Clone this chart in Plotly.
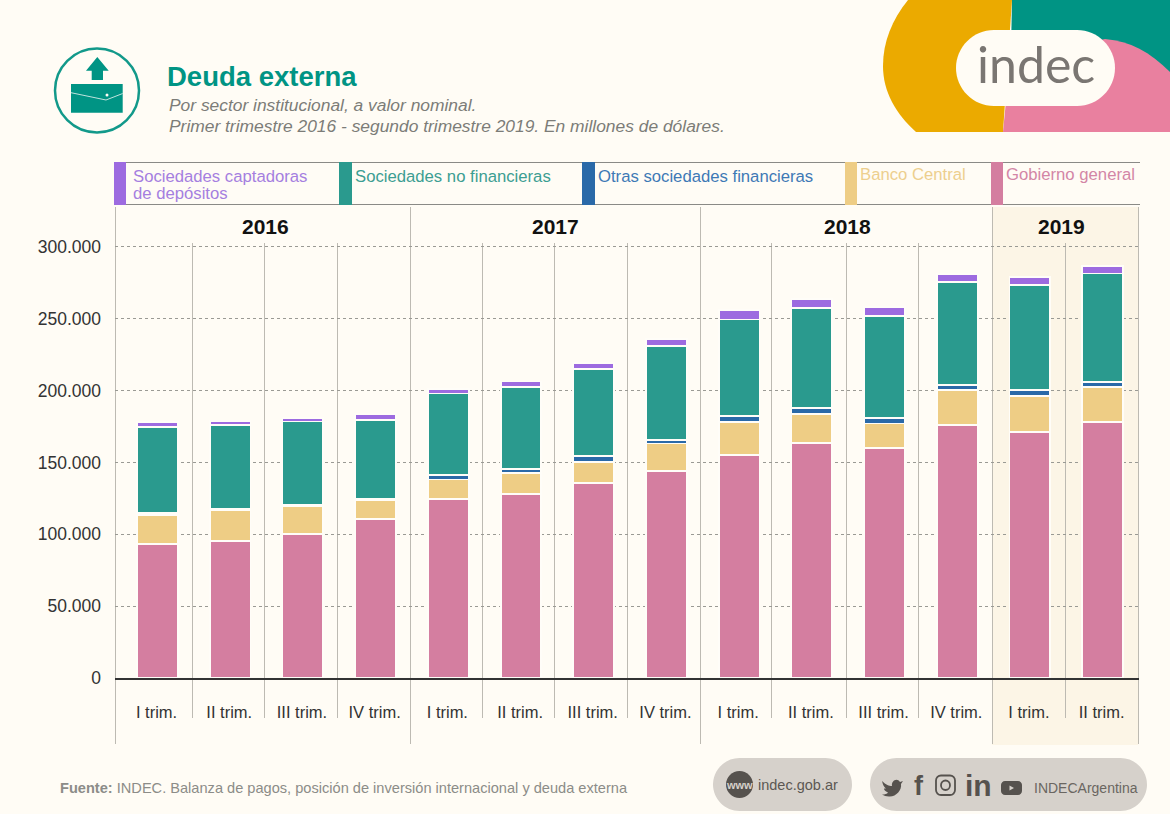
import plotly.graph_objects as go

W, H = 1170, 814
FONT = "Liberation Sans"
BG = "#FFFCF5"

quarters = ["I trim.", "II trim.", "III trim.", "IV trim."] * 3 + ["I trim.", "II trim."]
years = ["2016", "2017", "2018", "2019"]
series_names = ["Gobierno general", "Banco Central", "Otras sociedades financieras",
                "Sociedades no financieras", "Sociedades captadoras de depósitos"]
gobierno = [93400, 95600, 100300, 110500, 124400, 127900, 135700, 144100, 155200, 163400, 159900, 176100, 171200, 178200]
banco = [20100, 21100, 19000, 13400, 13700, 14800, 14800, 19100, 23000, 20600, 17200, 24200, 25200, 24100]
otras = [1400, 1000, 1200, 1000, 3000, 2600, 4000, 2700, 4200, 3700, 3700, 3700, 4100, 3700]
no_fin = [59800, 58400, 58000, 54500, 56900, 57100, 60400, 65200, 67100, 69600, 71000, 71600, 72800, 75500]
captadoras = [3300, 2800, 2700, 4100, 3000, 3900, 4200, 5100, 6400, 6500, 6500, 5600, 5600, 5300]
colors = ["#D47EA0", "#EECD85", "#2A69A8", "#2A9A8E", "#9D6BE0"]
yticks = [0, 50000, 100000, 150000, 200000, 250000, 300000]


def px(x):
    return x / W


def py(y):
    return 1 - y / H


def path(*items):
    out = []
    for it in items:
        cmd = it[0]
        pts = it[1:]
        out.append(cmd + " ".join(f"{px(pts[i]):.5f},{py(pts[i+1]):.5f}" for i in range(0, len(pts), 2)))
    return " ".join(out) + " Z"


shapes, notes = [], []


def rect(x0, y0, x1, y1, fill, layer="below", line=None, lw=0):
    shapes.append(dict(type="rect", xref="paper", yref="paper", x0=px(x0), x1=px(x1), y0=py(y0), y1=py(y1),
                       fillcolor=fill, line=dict(color=line or fill, width=lw), layer=layer))


def seg(x0, y0, x1, y1, color, width=1, layer="below"):
    shapes.append(dict(type="line", xref="paper", yref="paper", x0=px(x0), x1=px(x1), y0=py(y0), y1=py(y1),
                       line=dict(color=color, width=width), layer=layer))


def shp(d, fill, line=None, lw=0, layer="below"):
    shapes.append(dict(type="path", xref="paper", yref="paper", path=d, fillcolor=fill,
                       line=dict(color=line or fill, width=lw), layer=layer))


def oval(x0, y0, x1, y1, fill, line=None, lw=0):
    shapes.append(dict(type="circle", xref="paper", yref="paper", x0=px(x0), x1=px(x1), y0=py(y0), y1=py(y1),
                       fillcolor=fill, line=dict(color=line or fill, width=lw), layer="below"))


def text(x, y, s, size, color, anchor="left", family=FONT):
    notes.append(dict(xref="paper", yref="paper", x=px(x - 2 if anchor == "left" else x), y=py(y), text=s,
                      showarrow=False, xanchor=anchor, yanchor="middle", align="left",
                      font=dict(family=family, size=size, color=color)))


def rounded(x0, y0, x1, y1, r, fill, line=None, lw=0):
    k = r * 0.45
    shp(path(("M", x0 + r, y0), ("L", x1 - r, y0),
             ("C", x1 - k, y0, x1, y0 + k, x1, y0 + r),
             ("L", x1, y1 - r),
             ("C", x1, y1 - k, x1 - k, y1, x1 - r, y1),
             ("L", x0 + r, y1),
             ("C", x0 + k, y1, x0, y1 - k, x0, y1 - r),
             ("L", x0, y0 + r),
             ("C", x0, y0 + k, x0 + k, y0, x0 + r, y0)), fill, line, lw)


def pill(x0, y0, x1, y1, fill):
    rounded(x0, y0, x1, y1, (y1 - y0) / 2, fill)


# logo
shp(path(("M", 1012, 0), ("L", 1170, 0), ("L", 1170, 100), ("L", 1010, 100), ("L", 1012, 0)), "#009484")
shp(path(("M", 908, 0), ("C", 892, 20, 883, 42, 883, 66), ("C", 883, 92, 896, 114, 916, 132),
         ("L", 1003, 132), ("L", 1012, 0)), "#EBAA00")
shp(path(("M", 1003, 132), ("L", 1170, 132), ("L", 1170, 72), ("C", 1150, 52, 1130, 41, 1105, 39),
         ("L", 1010, 60)), "#E9809F")
pill(956, 30, 1115, 106, BG)
text(1035.5, 64, "indec", 50, "#7A7672", "center", "Lato")

# icon
oval(55, 48.5, 139, 132.5, "rgba(0,0,0,0)", "#12998A", 2.5)
rect(71, 84, 122.7, 112.7, "#009484")
shp(path(("M", 97.3, 57), ("L", 108.7, 70.7), ("L", 103, 70.7), ("L", 103, 80), ("L", 91.7, 80), ("L", 91.7, 70.7), ("L", 86, 70.7)), "#009484")
seg(71, 92.7, 106, 100, "#BFE3DD", 1)
seg(106, 100, 122.7, 93.5, "#BFE3DD", 1)
oval(105.5, 93.5, 108.5, 96.5, "#FFFCF5")

# titles
text(167, 76, "<b>Deuda externa</b>", 27.5, "#009484")
text(169, 105, "<i>Por sector institucional, a valor nominal.</i>", 17.4, "#7C7C78")
text(169, 126, "<i>Primer trimestre 2016 - segundo trimestre 2019. En millones de dólares.</i>", 17.4, "#7C7C78")

# legend band
seg(114, 162.5, 1140, 162.5, "#8A8A86", 1)
seg(114, 204.5, 1140, 204.5, "#8A8A86", 1)
legend_items = [(114, 126, colors[4], "#A57FE0", ["Sociedades captadoras", "de depósitos"], 133, [176, 193]),
                (339, 352, colors[3], "#3C9E92", ["Sociedades no financieras"], 355, [176]),
                (582, 595, colors[2], "#3E79B5", ["Otras sociedades financieras"], 598, [176]),
                (845, 857, colors[1], "#EDCF8E", ["Banco Central"], 860, [175]),
                (991, 1003, colors[0], "#D386A6", ["Gobierno general"], 1006, [175])]
for x0, x1, c, tc, labels, tx, tys in legend_items:
    rect(x0, 162, x1, 205, c)
    for label, ty in zip(labels, tys):
        text(tx, ty, label, 16.7, tc)

# 2019 highlight and dividers
rect(992, 207, 1138, 745, "#FCF5E6")
for x in [115, 410, 700, 992, 1138]:
    seg(x + 0.5, 207, x + 0.5, 744, "#BDBAB2", 1)
for x in [192, 264, 337, 482, 554, 627, 771, 846, 918, 1065]:
    seg(x + 0.5, 243, x + 0.5, 718, "#BDBAB2", 1)
for x, y_label in zip([265.5, 555, 847, 1061], years):
    text(x, 226.5, f"<b>{y_label}</b>", 21, "#111111", "center")

# footer
text(60, 788, "<b>Fuente:</b> INDEC. Balanza de pagos, posición de inversión internacional y deuda externa", 14.6, "#8C8C88")
pill(713, 758, 852, 811, "#D6D1CB")
pill(870, 758, 1147, 811, "#D6D1CB")
oval(726, 771, 753, 798, "#56524E")
text(739.5, 785, "<b>www</b>", 11, "#D6D1CB", "center")
text(758, 785, "indec.gob.ar", 14.5, "#5C5853")
# twitter bird
shp(path(("M", 882, 781), ("C", 886, 785, 889, 786, 892, 786), ("C", 891, 781, 897, 777, 900, 782),
         ("L", 903, 781), ("L", 901, 784), ("C", 902, 790, 896, 797, 889, 796.5), ("C", 886, 796.5, 884, 795.5, 882, 794.5),
         ("C", 885, 794.5, 887, 794, 888, 792.5), ("C", 885, 791, 884, 790, 884, 788.5), ("L", 886, 788.5),
         ("C", 884, 787, 883, 785, 882, 781)), "#56524E")
text(918.5, 786, "<b>f</b>", 27, "#56524E", "center")
rounded(936, 775.5, 955, 795, 5, "rgba(0,0,0,0)", "#56524E", 1.8)
oval(941, 780.5, 950, 790, "rgba(0,0,0,0)", "#56524E", 1.8)
text(978, 785, "<b>in</b>", 30, "#56524E", "center")
rounded(1001, 781, 1022, 795, 4, "#56524E")
shp(path(("M", 1009.5, 785.5), ("L", 1014, 788), ("L", 1009.5, 790.5)), "#D6D1CB")
text(1034, 788, "INDECArgentina", 14, "#6A6661")

x_pos = list(range(14))
series = [gobierno, banco, otras, no_fin, captadoras]
fig = go.Figure()
for name, vals, c in zip(series_names, series, colors):
    fig.add_trace(go.Bar(x=x_pos, y=vals, name=name, width=0.56, marker=dict(color=c, line=dict(color="#FFFDF8", width=1.8))))

fig.update_layout(
    width=W, height=H, barmode="stack", showlegend=False, separators=",.",
    paper_bgcolor=BG, plot_bgcolor="rgba(0,0,0,0)",
    margin=dict(l=0, r=0, t=0, b=0, autoexpand=False),
    shapes=shapes, annotations=notes,
    font=dict(family=FONT, color="#333333"),
    xaxis=dict(domain=[px(115), px(1139)], range=[-0.585, 13.5], tickmode="array", tickvals=x_pos,
               ticktext=quarters, ticks="outside", ticklen=18, tickcolor="rgba(0,0,0,0)", ticklabelshift=-1,
               tickfont=dict(size=16.5, color="#333333"), showgrid=False, zeroline=False,
               showline=True, linecolor="#333333", linewidth=2, fixedrange=True),
    yaxis=dict(domain=[py(678), py(207)], range=[0, 327800], tickmode="array", tickvals=yticks,
               tickformat=",d", tickfont=dict(size=17.5, color="#333333"), ticks="", showline=False, ticklabelstandoff=13,
               gridcolor="#9A9A94", griddash="3px,3px", gridwidth=1, zeroline=False, fixedrange=True),
)
fig.write_html("out.html", config=dict(displayModeBar=False),
               post_script="document.body.style.margin='0';document.body.style.background='%s';" % BG)
